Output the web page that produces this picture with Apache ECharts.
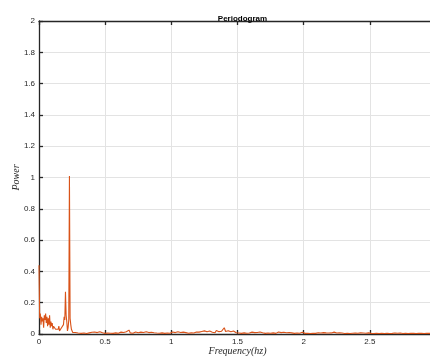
<!DOCTYPE html>
<html>
<head>
<meta charset="utf-8">
<script src="https://cdn.jsdelivr.net/npm/echarts@6/dist/echarts.min.js"></script>
<style>
  html, body { margin: 0; padding: 0; background: #ffffff; overflow: hidden; }
  #chart { width: 430px; height: 358px; }
</style>
</head>
<body>
<div id="chart"></div>
<script>
// Periodogram power spectrum, low band sampled every 0.005 Hz (0 .. 0.30)
const lowBandStart = 0;
const lowBandStep = 0.005;
const lowBandPower = [
  0.44, 0.10, 0.13, 0.06, 0.11, 0.08, 0.10, 0.04, 0.12, 0.09,
  0.13, 0.07, 0.11, 0.05, 0.10, 0.06, 0.12, 0.04, 0.08, 0.05,
  0.07, 0.03, 0.05, 0.04, 0.06, 0.03, 0.04, 0.02, 0.04, 0.03,
  0.05, 0.02, 0.03, 0.02, 0.04, 0.03, 0.05, 0.06, 0.11, 0.09,
  0.27, 0.12, 0.08, 0.02, 0.04, 0.09, 1.01, 0.10, 0.06, 0.03,
  0.02, 0.01, 0.02, 0.01, 0.015, 0.01, 0.02, 0.008, 0.012, 0.006,
  0.01
];

// Remaining band sampled every 0.01 Hz (0.31 .. 3.00)
const highBandStart = 0.31;
const highBandStep = 0.01;
const highBandPower = [
  0.008, 0.004, 0.012, 0.006, 0.010, 0.003, 0.014, 0.007, 0.005, 0.011,
  0.006, 0.013, 0.004, 0.009, 0.007, 0.015, 0.005, 0.008, 0.012, 0.004,
  0.010, 0.006, 0.018, 0.005, 0.009, 0.004, 0.011, 0.007, 0.013, 0.005,
  0.008, 0.012, 0.004, 0.010, 0.006, 0.014, 0.009, 0.025, 0.007, 0.011,
  0.005, 0.009, 0.013, 0.004, 0.008, 0.006, 0.012, 0.005, 0.010, 0.007,
  0.014, 0.005, 0.009, 0.006, 0.011, 0.004, 0.008, 0.013, 0.006, 0.010,
  0.005, 0.012, 0.007, 0.016, 0.004, 0.009, 0.006, 0.011, 0.005, 0.010,
  0.013, 0.006, 0.009, 0.004, 0.015, 0.007, 0.010, 0.005, 0.012, 0.006,
  0.009, 0.014, 0.005, 0.011, 0.007, 0.018, 0.006, 0.010, 0.013, 0.005,
  0.012, 0.008, 0.016, 0.006, 0.020, 0.009, 0.014, 0.007, 0.019, 0.010,
  0.011, 0.017, 0.008, 0.022, 0.012, 0.015, 0.009, 0.018, 0.030, 0.040,
  0.016, 0.012, 0.021, 0.009, 0.014, 0.007, 0.019, 0.011, 0.008, 0.013,
  0.006, 0.010, 0.004, 0.012, 0.007, 0.009, 0.005, 0.011, 0.006, 0.008,
  0.012, 0.005, 0.009, 0.004, 0.010, 0.006, 0.013, 0.005, 0.008, 0.007,
  0.004, 0.011, 0.006, 0.009, 0.005, 0.012, 0.007, 0.010, 0.004, 0.008,
  0.013, 0.006, 0.009, 0.005, 0.011, 0.004, 0.008, 0.006, 0.010, 0.005,
  0.007, 0.012, 0.004, 0.009, 0.006, 0.010, 0.005, 0.008, 0.011, 0.006,
  0.004, 0.008, 0.005, 0.010, 0.003, 0.007, 0.005, 0.009, 0.004, 0.006,
  0.008, 0.003, 0.006, 0.004, 0.009, 0.005, 0.007, 0.003, 0.006, 0.004,
  0.007, 0.004, 0.012, 0.005, 0.006, 0.003, 0.008, 0.004, 0.006, 0.005,
  0.003, 0.007, 0.004, 0.006, 0.003, 0.008, 0.005, 0.004, 0.006, 0.003,
  0.005, 0.003, 0.007, 0.004, 0.006, 0.003, 0.005, 0.004, 0.007, 0.003,
  0.004, 0.006, 0.003, 0.005, 0.004, 0.007, 0.003, 0.005, 0.004, 0.006,
  0.003, 0.005, 0.004, 0.006, 0.003, 0.005, 0.004, 0.003, 0.006, 0.004,
  0.005, 0.003, 0.006, 0.004, 0.003, 0.005, 0.004, 0.006, 0.003, 0.004,
  0.005, 0.003, 0.004, 0.006, 0.003, 0.004, 0.005, 0.003, 0.004, 0.005,
  0.003, 0.004, 0.005, 0.003, 0.004, 0.003, 0.004, 0.005, 0.003, 0.004,
  0.003, 0.004, 0.003, 0.005
];

const freqMin = 0;
const freqMax = 3;
const freqTickStep = 0.5;
const powerMin = 0;
const powerMax = 2;
const powerTickStep = 0.2;

const titleText = 'Periodogram';
const xAxisTitle = 'Frequency(hz)';
const yAxisTitle = 'Power';

// Build [frequency, power] pairs for the line series
const spectrum = [];
lowBandPower.forEach((p, i) => {
  spectrum.push([+(lowBandStart + i * lowBandStep).toFixed(3), p]);
});
highBandPower.forEach((p, i) => {
  spectrum.push([+(highBandStart + i * highBandStep).toFixed(3), p]);
});

const axisColor = '#262626';
const gridColor = '#e3e3e3';
const lineColor = '#D95319';
const sansFont = 'Helvetica, "Liberation Sans", Arial, sans-serif';
const serifFont = '"Liberation Serif", "DejaVu Serif", serif';

const chart = echarts.init(document.getElementById('chart'), null, { renderer: 'canvas' });

chart.setOption({
  animation: false,
  backgroundColor: '#ffffff',
  title: {
    text: titleText,
    left: 237.5,
    top: 10,
    textAlign: 'center',
    textStyle: { fontFamily: sansFont, fontSize: 8, fontWeight: 'bold', color: '#000000' }
  },
  grid: { left: 39, right: -6, top: 21, bottom: 24, outerBoundsMode: 'none', containLabel: false },
  xAxis: [
    {
      type: 'value',
      position: 'bottom',
      min: freqMin,
      max: freqMax,
      interval: freqTickStep,
      name: xAxisTitle,
      nameLocation: 'middle',
      nameGap: 12,
      nameMoveOverlap: false,
      nameTextStyle: { fontFamily: serifFont, fontStyle: 'italic', fontSize: 10, color: axisColor },
      axisLine: { show: true, onZero: false, lineStyle: { color: axisColor, width: 1.3 } },
      axisTick: { show: true, inside: true, length: 4, lineStyle: { color: axisColor, width: 1.3 } },
      axisLabel: { show: true, showMaxLabel: false, margin: 4, fontFamily: sansFont, fontSize: 8, color: axisColor },
      splitLine: { show: true, lineStyle: { color: gridColor, width: 1 } }
    },
    {
      type: 'value',
      position: 'top',
      min: freqMin,
      max: freqMax,
      interval: freqTickStep,
      axisLine: { show: true, onZero: false, lineStyle: { color: axisColor, width: 1.3 } },
      axisTick: { show: true, inside: true, length: 4, lineStyle: { color: axisColor, width: 1.3 } },
      axisLabel: { show: false },
      splitLine: { show: false }
    }
  ],
  yAxis: {
    type: 'value',
    min: powerMin,
    max: powerMax,
    interval: powerTickStep,
    name: yAxisTitle,
    nameLocation: 'middle',
    nameGap: 18,
    nameMoveOverlap: false,
    nameRotate: 90,
    nameTextStyle: { fontFamily: serifFont, fontStyle: 'italic', fontSize: 10, color: axisColor },
    axisLine: { show: true, onZero: false, lineStyle: { color: axisColor, width: 1.3 } },
    axisTick: { show: true, inside: true, length: 4, lineStyle: { color: axisColor, width: 1.3 } },
    axisLabel: { margin: 4, fontFamily: sansFont, fontSize: 8, color: axisColor },
    splitLine: { show: true, lineStyle: { color: gridColor, width: 1 } }
  },
  series: [
    {
      type: 'line',
      data: spectrum,
      showSymbol: false,
      symbol: 'none',
      lineStyle: { color: lineColor, width: 1.1 },
      z: 5
    }
  ]
});
</script>
</body>
</html>
